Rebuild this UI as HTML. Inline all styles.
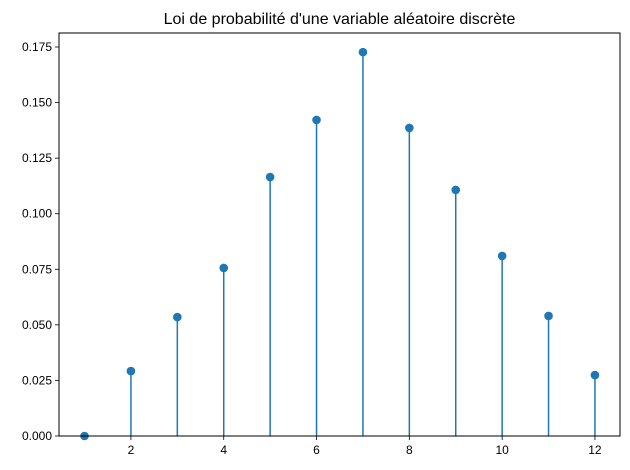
<!DOCTYPE html>
<html><head><meta charset="utf-8"><style>
html,body{margin:0;padding:0;background:#fff;}
svg{display:block;font-family:"Liberation Sans","DejaVu Sans",sans-serif;}
</style></head><body>
<svg id="chart" width="630" height="470"></svg>
<script>
const categories = [1,2,3,4,5,6,7,8,9,10,11,12];
const probabilities = [0.0, 0.0292, 0.0535, 0.0756, 0.1165, 0.1422, 0.1727, 0.1386, 0.1107, 0.081, 0.054, 0.0274];
const xTicks = [2,4,6,8,10,12];
const yTicks = [0,0.025,0.05,0.075,0.1,0.125,0.15,0.175];
const yTickLabels = ["0.000","0.025","0.050","0.075","0.100","0.125","0.150","0.175"];

const L=59,R=620,T=33,B=436;
const xMin=0.45,xMax=12.54,yMin=0,yMax=0.1813;
const sx=v=>L+(v-xMin)/(xMax-xMin)*(R-L);
const sy=v=>B-(v-yMin)/(yMax-yMin)*(B-T);
const NS="http://www.w3.org/2000/svg";
const svg=document.getElementById('chart');
function mk(tag,attrs,parent){const e=document.createElementNS(NS,tag);for(const k in attrs)e.setAttribute(k,attrs[k]);(parent||svg).appendChild(e);return e;}

const title=mk('text',{x:(L+R)/2,y:24,'text-anchor':'middle','font-size':16,fill:'#000'});


title.textContent="Loi de probabilité d'une variable aléatoire discrète";

const series=mk('g',{});


categories.forEach((c,i)=>{
  const ln=mk('line',{x1:sx(c),x2:sx(c),y1:sy(0),y2:sy(probabilities[i]),stroke:'#1f77b4','stroke-width':1.5},series);
  
  
  const pt=mk('circle',{cx:sx(c),cy:sy(probabilities[i]),r:4.3,fill:'#1f77b4'},series);
  
  
});

const frame=mk('rect',{x:L,y:T,width:R-L,height:B-T,fill:'none',stroke:'#000','stroke-width':1});



const xg=mk('g',{});


xTicks.forEach(t=>{
  mk('line',{x1:sx(t),x2:sx(t),y1:B,y2:B+4,stroke:'#000','stroke-width':0.8},xg);
  const tx=mk('text',{x:sx(t),y:B+18,'text-anchor':'middle','font-size':12,fill:'#000'},xg);
  
  
  tx.textContent=t;
});
const yg=mk('g',{});


yTicks.forEach((t,i)=>{
  mk('line',{x1:L-4,x2:L,y1:sy(t),y2:sy(t),stroke:'#000','stroke-width':0.8},yg);
  const tx=mk('text',{x:L-7,y:sy(t)+4,'text-anchor':'end','font-size':12,fill:'#000'},yg);
  
  
  tx.textContent=yTickLabels[i];
});
</script>
</body></html>
